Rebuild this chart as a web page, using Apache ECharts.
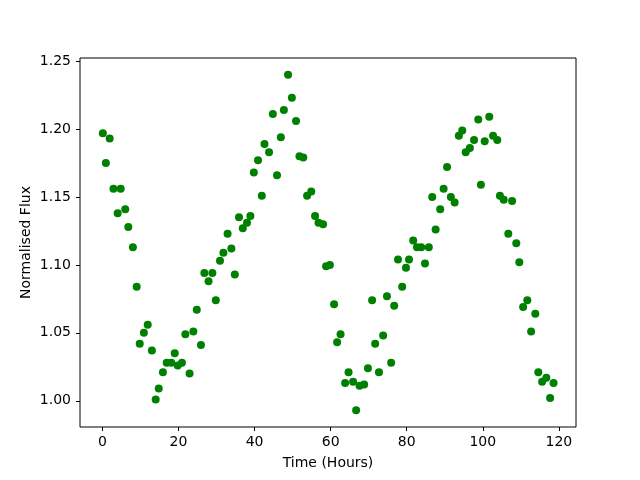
<!DOCTYPE html>
<html>
<head>
<meta charset="utf-8">
<script src="https://cdn.jsdelivr.net/npm/echarts@6/dist/echarts.min.js"></script>
<style>
  html, body { margin: 0; padding: 0; background: #fff; }
  #chart { width: 640px; height: 480px; }
</style>
</head>
<body>
<div id="chart"></div>
<script>
// time in hours
var hours = [
  0.1, 0.9, 1.9, 2.9, 4.0, 4.8, 6.0, 6.8, 8.0, 9.0,
  9.8, 10.9, 11.9, 13.0, 14.0, 14.8, 15.9, 16.9, 18.1, 19.0,
  19.8, 20.9, 21.8, 22.9, 23.9, 24.8, 25.9, 26.8, 27.9, 28.9,
  29.8, 30.9, 31.8, 32.9, 33.9, 34.8, 35.9, 36.9, 38.0, 38.9,
  39.8, 40.9, 41.9, 42.6, 43.8, 44.8, 45.9, 46.9, 47.7, 48.8,
  49.8, 50.9, 51.8, 52.8, 53.8, 54.9, 55.9, 56.8, 58.0, 58.8,
  59.8, 60.9, 61.7, 62.6, 63.8, 64.7, 65.9, 66.7, 67.6, 68.8,
  69.8, 70.9, 71.7, 72.7, 73.8, 74.8, 75.9, 76.7, 77.7, 78.8,
  79.8, 80.6, 81.7, 82.7, 83.8, 84.8, 85.8, 86.7, 87.6, 88.8,
  89.7, 90.6, 91.6, 92.6, 93.7, 94.6, 95.5, 96.6, 97.7, 98.8,
  99.5, 100.5, 101.7, 102.7, 103.8, 104.5, 105.5, 106.7, 107.7, 108.8,
  109.6, 110.6, 111.7, 112.7, 113.8, 114.6, 115.6, 116.7, 117.7, 118.6
]
var flux = [
  1.197, 1.175, 1.193, 1.156, 1.138, 1.156, 1.141, 1.128, 1.113, 1.084,
  1.042, 1.050, 1.056, 1.037, 1.001, 1.009, 1.021, 1.028, 1.028, 1.035,
  1.026, 1.028, 1.049, 1.020, 1.051, 1.067, 1.041, 1.094, 1.088, 1.094,
  1.074, 1.103, 1.109, 1.123, 1.112, 1.093, 1.135, 1.127, 1.131, 1.136,
  1.168, 1.177, 1.151, 1.189, 1.183, 1.211, 1.166, 1.194, 1.214, 1.240,
  1.223, 1.206, 1.180, 1.179, 1.151, 1.154, 1.136, 1.131, 1.130, 1.099,
  1.100, 1.071, 1.043, 1.049, 1.013, 1.021, 1.014, 0.993, 1.011, 1.012,
  1.024, 1.074, 1.042, 1.021, 1.048, 1.077, 1.028, 1.070, 1.104, 1.084,
  1.098, 1.104, 1.118, 1.113, 1.113, 1.101, 1.113, 1.150, 1.126, 1.141,
  1.156, 1.172, 1.150, 1.146, 1.195, 1.199, 1.183, 1.186, 1.192, 1.207,
  1.159, 1.191, 1.209, 1.195, 1.192, 1.151, 1.148, 1.123, 1.147, 1.116,
  1.102, 1.069, 1.074, 1.051, 1.064, 1.021, 1.014, 1.017, 1.002, 1.013
]
var xTicks = [0, 20, 40, 60, 80, 100, 120]
var yTicks = [1.00, 1.05, 1.10, 1.15, 1.20, 1.25]

var points = hours.map(function(h, i) {
  return [h, flux[i]]
})

var font = 'DejaVu Sans'
var chart = echarts.init(document.getElementById('chart'), null, { renderer: 'canvas' })
chart.setOption({
  animation: false,
  backgroundColor: '#fff',
  grid: {
    left: 80,
    right: 64,
    top: 58,
    bottom: 53,
    show: true,
    borderColor: '#000',
    borderWidth: 1,
    outerBoundsMode: 'none'
  },
  xAxis: {
    type: 'value',
    min: -5.9,
    max: 124.5,
    name: 'Time (Hours)',
    nameLocation: 'middle',
    nameGap: 29,
    nameMoveOverlap: false,
    nameTextStyle: { color: '#000', fontFamily: font, fontSize: 14 },
    axisLine: { show: false, onZero: false },
    axisTick: { show: true, length: 4, customValues: xTicks, lineStyle: { color: '#000' } },
    axisLabel: {
      customValues: xTicks,
      margin: 8,
      color: '#000',
      fontFamily: font,
      fontSize: 14
    },
    splitLine: { show: false }
  },
  yAxis: {
    type: 'value',
    min: 0.9807,
    max: 1.2523,
    name: 'Normalised Flux',
    nameLocation: 'middle',
    nameGap: 47,
    nameMoveOverlap: false,
    nameTextStyle: { color: '#000', fontFamily: font, fontSize: 14 },
    axisLine: { show: false, onZero: false },
    axisTick: { show: true, length: 4, customValues: yTicks, lineStyle: { color: '#000' } },
    axisLabel: {
      customValues: yTicks,
      margin: 9,
      color: '#000',
      fontFamily: font,
      fontSize: 14,
      formatter: function(v) { return v.toFixed(2) }
    },
    splitLine: { show: false }
  },
  series: [
    {
      type: 'scatter',
      data: points,
      symbol: 'circle',
      symbolSize: 8,
      itemStyle: { color: '#008000', opacity: 1 }
    }
  ]
})
</script>
</body>
</html>
